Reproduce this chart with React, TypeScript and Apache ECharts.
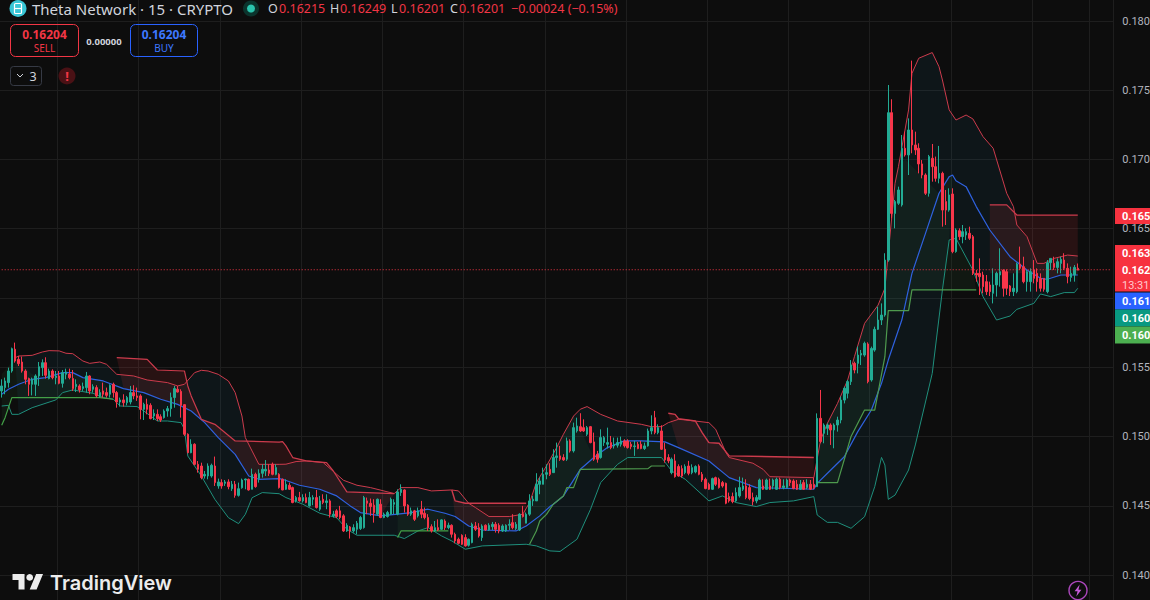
import React, { useEffect, useRef } from "react";
import * as echarts from "echarts";

// candle rows: open, high, low, close
const candlesA = [
[.15329,.15413,.15281,.15365],[.15353,.15425,.15305,.15401],[.15389,.15497,.15353,.15473],[.15473,.15642,.15461,.15634],[.1563,.15678,.15533,.15545],
[.15557,.15581,.15509,.15526],[.15538,.15577,.15461,.15473],[.15473,.15485,.15377,.15413],[.15418,.15425,.15293,.15377],[.15377,.15425,.15297,.15413],
[.15377,.15449,.15293,.15437],[.15437,.15538,.15365,.15504],[.15497,.15557,.15437,.15533],[.15533,.15572,.15418,.15442],[.15418,.1549,.15413,.15473],
[.15473,.15485,.15413,.15425],[.15425,.15473,.15377,.15437],[.15437,.15473,.15377,.15384],[.15384,.1548,.15353,.15461],[.15449,.1549,.15413,.15466],
[.15451,.1549,.15413,.15425],[.15418,.1548,.15329,.15346],[.1536,.15413,.15321,.15377],[.15365,.15377,.15317,.15336],[.15346,.15389,.15329,.1536],
[.15353,.15466,.15317,.15437],[.15437,.15442,.15305,.15329],[.15341,.15377,.15317,.1536],[.15353,.1537,.15281,.15293],[.15293,.15341,.15281,.15317],
[.15329,.15389,.15281,.15305],[.15317,.15353,.15281,.15297],[.15305,.15377,.15281,.1537],[.15377,.15389,.15281,.15317],[.15317,.15329,.15208,.15249],
[.15249,.15281,.15216,.15264],[.15264,.15305,.15216,.15244],[.15244,.15293,.15225,.15281],[.15249,.15365,.15232,.15317],[.15317,.1537,.15269,.15293],
[.15293,.15353,.15257,.15281],[.15293,.15305,.15124,.15196],[.15196,.15244,.15119,.15232],[.15232,.15273,.1516,.15196],[.15225,.1524,.15124,.15129],
[.15148,.15196,.15119,.15167],[.1516,.15196,.15112,.15129],[.15143,.1516,.15105,.15119],[.15136,.15196,.15129,.15184],[.15184,.1522,.15143,.15201],
[.15201,.15317,.15143,.15281],[.15281,.15365,.15208,.15346],[.15341,.15365,.15317,.15321],[.15326,.15341,.15136,.15225],[.1523,.15232,.15004,.15016],
[.15016,.15023,.14879,.14883],[.14883,.1498,.14879,.14944],[.14944,.14951,.14792,.14799],[.14799,.14823,.14739,.14763],[.14787,.14811,.14691,.14703],
[.14715,.14751,.14696,.14727],[.14715,.14806,.14691,.14787],[.14715,.14804,.14703,.14792],[.14787,.14855,.14643,.14667],[.14643,.14696,.14623,.14672],
[.14667,.14691,.14623,.14643],[.14662,.14686,.14643,.14672],[.14672,.14691,.14619,.14638],[.14623,.14679,.14607,.14655],[.14655,.14679,.14558,.14575],
[.14575,.14667,.14566,.14623],[.1463,.14696,.14623,.14686],[.14686,.14696,.14619,.14693],[.14691,.14696,.14609,.14614],[.14619,.14768,.14619,.14727],
[.14727,.14739,.1463,.14638],[.14696,.14763,.14667,.14734],[.14734,.14799,.14703,.14763],[.14751,.1483,.14715,.14763],[.14758,.14799,.14715,.14734],
];
const candlesB = [
[.148,.14812,.1472,.14727],[.14727,.148,.1472,.14776],[.14727,.14735,.14624,.14631],[.14691,.14696,.14612,.14614],[.14619,.14691,.14614,.14655],
[.14648,.14667,.14614,.14619],[.14631,.14638,.14518,.14523],[.14535,.14571,.14523,.14559],[.14559,.146,.1453,.14535],[.14535,.14583,.14523,.14559],
[.14559,.14588,.14518,.14523],[.14499,.146,.14494,.14559],[.14547,.14576,.14504,.14559],[.14559,.14614,.1448,.14487],[.14475,.14571,.14463,.14535],
[.14547,.14583,.14511,.14523],[.14523,.14583,.14475,.14535],[.14535,.14547,.14415,.14439],[.14427,.14463,.14415,.14439],[.14463,.14475,.1441,.14422],
[.14463,.14499,.14402,.14415],[.14427,.14439,.14311,.14318],[.14318,.14374,.14311,.14359],[.14347,.14354,.14263,.14318],[.14318,.14366,.14306,.14342],
[.1433,.1439,.14294,.14374],[.14335,.14427,.14325,.14415],[.14342,.14571,.14335,.14559],[.14535,.14559,.14439,.14518],[.14518,.14552,.14427,.14494],
[.14504,.14547,.14378,.14451],[.14439,.14552,.14427,.14547],[.14511,.14547,.1441,.14415],[.14415,.14451,.1441,.14439],[.14422,.14463,.14415,.14451],
[.14439,.14559,.14434,.14547],[.14511,.14547,.14439,.14523],[.14439,.14619,.14431,.146],[.14595,.14655,.14571,.14619],[.14614,.14619,.14451,.14499],
[.14504,.14511,.14427,.14439],[.14439,.14487,.14427,.14463],[.14463,.1447,.1439,.14402],[.14427,.14487,.14415,.14463],[.14475,.14535,.1441,.14439],
[.14446,.14487,.14402,.14415],[.14415,.14439,.14318,.14342],[.14349,.14366,.14306,.14318],[.14318,.1439,.14311,.14342],[.14342,.14402,.14318,.14325],
[.1433,.14402,.14325,.14398],[.1439,.14402,.14325,.14342],[.14342,.14378,.1433,.14359],[.14359,.14366,.1427,.14294],[.14294,.14306,.14229,.14246],
[.14258,.1427,.14222,.14229],[.14287,.14294,.14217,.14222],[.1427,.14294,.14205,.1421],[.14215,.14263,.14205,.14258],[.14234,.14378,.14229,.14366],
[.14354,.14383,.14318,.1433],[.14342,.14374,.1427,.14282],[.1427,.14366,.14246,.14354],[.14359,.14366,.14318,.14325],[.14325,.14374,.14318,.14359],
[.14349,.14383,.14325,.14366],[.14366,.14383,.14306,.1433],[.14359,.14374,.14301,.14318],[.14318,.14366,.14311,.14354],[.14318,.14366,.14311,.14359],
[.14359,.14402,.14325,.14366],[.14378,.14439,.1433,.14342],[.14335,.14383,.14325,.14366],[.14325,.14446,.14318,.14439],[.14439,.14499,.14415,.14422],
[.14374,.14451,.14374,.14439],[.14439,.14583,.14427,.14535],[.14535,.14571,.14499,.14547],[.14535,.14735,.14535,.14655],[.14655,.14703,.14583,.14679],
];
const candlesC = [
[.14655,.14775,.14655,.14727],[.14727,.14799,.14691,.14739],[.14763,.14807,.14715,.14727],[.14739,.14908,.14739,.14848],[.14848,.14956,.14775,.1486],
[.1486,.14932,.14824,.14836],[.14848,.14872,.14824,.14831],[.14836,.14992,.14824,.14968],[.14968,.1498,.14884,.14896],[.14896,.151,.14884,.15064],
[.1504,.15136,.15028,.15076],[.15071,.15168,.15033,.1504],[.15064,.15124,.15033,.1504],[.15016,.15076,.15004,.15064],[.15071,.15076,.14951,.14956],
[.14961,.15028,.14824,.14836],[.14872,.14896,.14811,.14836],[.14848,.15052,.1484,.14992],[.14956,.15004,.14932,.14992],[.14944,.15064,.14913,.14956],
[.14956,.15004,.14908,.1492],[.14932,.14992,.14913,.14944],[.14937,.14992,.1492,.14956],[.14944,.14999,.14927,.14968],[.14968,.1498,.1492,.14932],
[.14968,.1498,.14913,.1492],[.14944,.14961,.14908,.14927],[.14927,.14968,.1486,.14932],[.14944,.14961,.14908,.14913],[.14944,.14968,.14908,.14913],
[.14913,.14956,.14903,.14932],[.14932,.15057,.14927,.1504],[.1504,.15153,.15016,.15064],[.15136,.15185,.15016,.15028],[.15028,.15088,.15016,.15064],
[.1504,.15081,.14903,.14908],[.14908,.14956,.14811,.14831],[.14848,.14872,.14807,.14824],[.14739,.14848,.14727,.14836],[.14824,.14872,.14703,.1471],
[.14783,.14799,.1471,.14715],[.14768,.14792,.14703,.14715],[.14739,.14799,.14727,.14783],[.14787,.14824,.1472,.14734],[.14739,.14799,.14727,.14775],
[.14744,.14792,.14734,.14783],[.14787,.14799,.1472,.14727],[.14727,.14744,.14672,.14686],[.14691,.14703,.14619,.14624],[.14655,.14667,.14614,.14619],
[.14619,.14703,.14614,.14696],[.14703,.1471,.14643,.14655],[.14691,.14703,.14624,.14631],[.14667,.14679,.14631,.14643],[.14662,.14667,.14511,.14518],
[.14566,.14595,.14523,.14535],[.14566,.14595,.14518,.1453],[.14535,.14631,.14528,.14595],[.14571,.1471,.14559,.14631],[.14619,.14703,.14607,.14643],
[.14643,.14691,.14547,.14559],[.14631,.14655,.1454,.14552],[.14559,.14595,.14503,.1453],[.14535,.14576,.14518,.14559],[.14547,.14696,.14542,.14686],
[.14643,.14691,.14614,.14619],[.14619,.14696,.14614,.14686],[.14643,.14696,.14614,.14619],[.14643,.14696,.14619,.14686],[.14619,.14703,.14614,.14691],
[.14691,.14703,.14619,.14631],[.14631,.14691,.14619,.14643],[.14631,.14696,.14624,.14686],[.14686,.14696,.14643,.14667],[.14679,.14691,.14619,.14624],
[.14655,.14686,.14614,.14619],[.14619,.14686,.14614,.14655],[.14667,.14686,.14614,.14619],[.14631,.14691,.14619,.14655],[.14655,.14686,.14614,.14619],
[.14655,.14703,.14619,.14631],
];
const candlesD = [
[.14638,.15167,.14638,.15131],[.15131,.15336,.14951,.14963],[.15023,.15095,.14951,.15083],[.15059,.15095,.15011,.15083],[.15083,.15095,.14939,.15047],
[.15047,.15095,.14915,.15083],[.15083,.15143,.15035,.15119],[.15119,.15288,.15095,.15263],[.15263,.1536,.15239,.15348],[.15312,.15408,.15275,.15396],
[.15396,.15552,.15372,.15516],[.15528,.1554,.15456,.1548],[.15528,.15649,.15456,.15588],[.15588,.15625,.15516,.156],[.15588,.15685,.15576,.15673],
[.15668,.1568,.15384,.15396],[.15408,.15649,.15396,.15636],[.15624,.15793,.15612,.15774],[.15774,.15937,.15769,.15841],[.15841,.15961,.15805,.15877],
[.15877,.16323,.15865,.16274],[.16274,.17538,.16262,.17338],[.17338,.17435,.16575,.16611],[.16611,.16708,.16503,.16696],[.16684,.16804,.16672,.1678],
[.16672,.17177,.1666,.17081],[.17081,.17201,.17021,.17033],[.17033,.17297,.16888,.17213],[.17213,.17714,.17045,.17105],[.17105,.17201,.17033,.17069],
[.17081,.17117,.169,.16968],[.16968,.16996,.16864,.16888],[.16888,.169,.16744,.16756],[.16756,.17033,.16732,.17021],[.17009,.17112,.1684,.16948],
[.16948,.17021,.1684,.16864],[.16864,.17098,.16828,.169],[.169,.16912,.16515,.16635],[.16696,.1678,.16527,.16635],[.16635,.16792,.16623,.16744],
[.16751,.16792,.16323,.16335],[.16335,.16503,.16327,.16491],[.16486,.16503,.16419,.16443],[.16443,.16527,.16395,.16479],[.16455,.16503,.16419,.16479],
[.16467,.16515,.16419,.16431],[.16443,.16455,.16166,.16178],[.16178,.16202,.16118,.16166],[.16178,.16286,.16022,.16154],[.16166,.1619,.16034,.16082],
[.16118,.16166,.16022,.16046],[.16094,.16118,.16014,.16046],[.16034,.16214,.15961,.16094],[.16094,.1619,.1601,.16178],[.16166,.16359,.16082,.1619],
[.16202,.16207,.1601,.1607],[.1619,.16207,.16022,.1607],[.16087,.16094,.16014,.16046],[.16046,.16178,.16014,.1607],[.16046,.16255,.16034,.16245],
[.16245,.16371,.16202,.16214],[.16226,.16298,.16106,.16118],[.16118,.16202,.16046,.1619],[.16118,.16214,.16046,.1619],[.16202,.16274,.16106,.16142],
[.16178,.16214,.16046,.16118],[.16142,.16178,.16046,.1607],[.16142,.16142,.16046,.16063],[.16046,.16274,.16034,.16255],[.16255,.16286,.16202,.16286],
[.1625,.16298,.16202,.16221],[.16221,.16286,.16178,.16262],[.1625,.16298,.16178,.16279],[.16274,.16323,.16202,.16214],[.16214,.1625,.16106,.16154],
[.16149,.16226,.16118,.16178],[.16166,.16238,.16118,.16221],[.16215,.16249,.16201,.16201],
];

// band lines: candle index, price
const upperBand = [
[4,.15569],[5,.15581],[9,.15586],[12,.1561],[14,.1562],[17,.15618],[19,.15601],[21,.15598],[24,.15545],[26,.15528],[29,.15538],[31,.15521],[34,.15449],[39,.15437],[43,.15408],[49,.15389],[52,.15365],[54,.15377],[57,.15461],[59,.15478],[61,.15473],[64,.15449],[67,.15401],[69,.15317],[71,.15148],[72,.14992],[74,.14895],[76,.14799],[78,.14799],[82,.14799],
[84,.148],[87,.14819],[90,.14824],[95,.14812],[99,.14727],[101,.14684],[105,.14648],[109,.14631],[116,.14588],[118,.14631],[123,.14631],[127,.14607],[133,.14614],[135,.14607],[138,.14518],[140,.14487],[144,.14422],[150,.14422],[154,.14439],[156,.14523],[158,.14667],[161,.14788],
[164,.1492],[166,.15016],[169,.15148],[171,.15197],[173,.15216],[177,.1516],[182,.15112],[189,.15088],[192,.15071],[195,.15071],[197,.151],[200,.15124],[202,.1512],[209,.151],[211,.15052],[214,.14884],[215,.14848],[222,.14807],[225,.14763],[227,.1471],[240,.14703],
[242,.14975],[244,.15095],[247,.15239],[250,.15408],[252,.15576],[255,.15817],[259,.15949],[261,.1607],[264,.16828],[265,.16948],[268,.17358],[269,.17622],[271,.17731],[275,.17772],[277,.1767],[278,.17574],[280,.17358],[282,.17285],[285,.17321],[287,.17293],[290,.17165],[293,.17081],[297,.16756],[299,.16659],[300,.16527],[303,.16443],[306,.1625],[308,.1625],[311,.16286],[315,.1631],[318,.16303],
];
const basisLine = [
[0,.15305],[2,.15341],[5,.15377],[9,.15413],[13,.15425],[18,.15461],[21,.15461],[24,.15425],[30,.15401],[36,.15346],[42,.15317],[47,.15269],[52,.15232],[56,.15184],[60,.151],[64,.14992],[69,.14871],[73,.14715],[76,.14691],[82,.14696],
[83,.14691],[88,.14648],[94,.14619],[99,.14571],[103,.14499],[106,.14451],[112,.14427],[117,.14439],[121,.14451],[126,.14475],[131,.14446],[134,.14422],[138,.14354],[142,.14325],[152,.14318],[155,.14354],[159,.14427],[162,.14494],
[163,.14511],[166,.14571],[171,.14763],[175,.14848],[179,.1492],[184,.14968],[189,.14968],[196,.14961],[200,.1492],[209,.14823],[215,.14703],[223,.14631],[240,.14619],
[241,.14662],[245,.14758],[249,.14854],[253,.15035],[257,.15191],[260,.15384],[262,.15552],[266,.15841],[269,.16178],[273,.16467],[277,.16756],[280,.16876],[281,.16888],[282,.16847],[285,.16804],[288,.1666],[292,.16491],[298,.16298],[303,.16202],[307,.16142],[309,.16135],[313,.16166],[318,.16166],
];
const lowerBand = [
[0,.1522],[2,.15225],[3,.1516],[5,.1516],[9,.15208],[16,.15264],[18,.15317],[21,.15336],[27,.15312],[30,.15281],[33,.15269],[35,.1522],[40,.15216],[42,.15184],[46,.15112],[49,.15112],[53,.151],[54,.15052],[55,.14859],[59,.14715],[63,.14546],[67,.14414],[70,.14371],[72,.14438],[74,.14558],[77,.14595],[82,.14587],
[84,.14559],[89,.14511],[94,.14446],[99,.14414],[102,.1433],[105,.14287],[116,.14287],[119,.14263],[123,.14318],[126,.14342],[130,.14282],[133,.14246],[137,.14186],[142,.1421],[155,.14222],[158,.1421],[162,.14174],[165,.1417],
[170,.14258],[174,.14474],[177,.14667],[182,.14799],[185,.14848],[191,.14848],[195,.14848],[198,.14751],[202,.14691],[209,.14535],[213,.14571],[217,.14523],[223,.14494],[227,.14523],[234,.14535],[240,.14566],
[241,.14433],[244,.1438],[247,.1438],[251,.14337],[255,.14421],[258,.14638],[260,.14849],[261,.14794],[262,.14546],[264,.14577],[268,.14758],[270,.14939],[275,.15456],[278,.16058],[280,.16419],[282,.16431],[287,.16202],[290,.1601],[294,.15841],[298,.1587],[300,.15918],[305,.15961],[307,.16029],[310,.1601],[314,.16039],[317,.16039],[318,.1607],
];

// stepped resistance lines
const resistA = [[34,.15569],[43,.15557],[46,.1548],[54,.15473],[55,.15365],[56,.15293],[59,.15124],[63,.15088],[69,.14968],[82,.1496],[83,.14963],[84,.14932],[86,.14848],[90,.14824],[96,.14812],[98,.14751],[102,.146],[116,.14588]];
const resistB = [[133,.14614],[134,.14535],[137,.14518],[155,.14518]];
const resistC = [[197,.15168],[199,.1516],[200,.15129],[205,.15112],[207,.15028],[209,.14956],[212,.14951],[215,.1486],[240,.14848]];
const resistD = [[292,.16672],[297,.16672],[300,.16599],[318,.16599]];
const resistDFloor = [[318,.16166],[307,.16142],[303,.16178],[292,.16178]];

// stepped support lines
const supportA = [[0,.15081],[1,.15136],[3,.15281],[29,.15281],[33,.15269]];
const supportB = [[117,.1427],[118,.14318],[132,.14318]];
const supportC = [[156,.14222],[158,.14318],[159,.1439],[161,.14438],[163,.14511],[166,.14571],[167,.14631],[169,.14631],[171,.14763],[191,.14768],[192,.14787],[196,.14787]];
const supportD = [[241,.14667],[247,.14667],[251,.15],[255,.15191],[258,.15191],[261,.15576],[262,.15909],[268,.15909],[269,.16058],[288,.16058]];
const supportACeiling = [[9,.1545],[4,.15569],[0,.1545]];
const supportDCeiling = [[267,.1700]];

const lastPrice = 0.16204;
const priceTicks = [0.135, 0.185, 0.005];
const slotCount = 329;
const timeLines = [17, 41, 65, 89, 113, 137, 161, 185, 209, 233, 257, 281, 305, 322];

const symbolTitle = "Theta Network · 15 · CRYPTO";
const ohlcLabels = ["O", "H", "L", "C"];
const ohlcValues = ["0.16215", "0.16249", "0.16201", "0.16201"];
const changeText = "−0.00024 (−0.15%)";
const axisTags = [
  { text: "0.165", y: 216, h: 16, fill: "#f7323f" },
  { text: "0.163", y: 253.5, h: 17, fill: "#f7323f" },
  { text: "0.162", y: 270.5, h: 17, fill: "#f7323f" },
  { text: "13:31", y: 285, h: 13, fill: "#f7323f", color: "#ffc9cd" },
  { text: "0.161", y: 301, h: 17, fill: "#2962ff" },
  { text: "0.160", y: 318, h: 17, fill: "#089981" },
  { text: "0.160", y: 335, h: 17, fill: "#4caf50" },
];

const BG = "#0d0d0d";
const GRID = "#1e1e1e";
const UI = "Noto Sans, Roboto, sans-serif";
const RED = "#f23645";

const inRange = (line: number[][], a: number, b: number) => line.filter((p) => p[0] >= a && p[0] <= b);
const backwards = (line: number[][]) => [...line].reverse();

const zones: { fill: string; points: number[][] }[] = [
  { fill: "rgba(33,120,160,0.09)", points: [...upperBand, ...backwards(inRange(lowerBand, 4, 318))] },
  { fill: "rgba(242,54,69,0.12)", points: [...resistA, ...backwards(inRange(basisLine, 34, 116))] },
  { fill: "rgba(242,54,69,0.12)", points: [...resistB, ...backwards(inRange(basisLine, 133, 155))] },
  { fill: "rgba(242,54,69,0.12)", points: [...resistC, ...backwards(inRange(basisLine, 197, 240))] },
  { fill: "rgba(242,54,69,0.12)", points: [...resistD, ...resistDFloor] },
  { fill: "rgba(76,175,80,0.07)", points: [...supportA, ...backwards(inRange(basisLine, 13, 33)), ...supportACeiling] },
  { fill: "rgba(76,175,80,0.07)", points: [...supportB, ...backwards(inRange(basisLine, 117, 132))] },
  { fill: "rgba(76,175,80,0.07)", points: [...supportC, ...backwards(inRange(basisLine, 175, 196)), ...backwards(inRange(upperBand, 156, 169))] },
  { fill: "rgba(76,175,80,0.07)", points: [...supportD, ...backwards(inRange(lowerBand, 280, 287)), ...backwards(inRange(basisLine, 277, 281)), ...supportDCeiling, ...backwards(inRange(upperBand, 241, 265))] },
];

function text(x: number, y: number, s: string, fill: string, font: string, align = "left") {
  return { type: "text", x, y, z: 50, silent: true, style: { text: s, fill, font, align, verticalAlign: "middle" } };
}
function box(x: number, y: number, w: number, h: number, r: number, stroke: string, fill = "transparent") {
  return { type: "rect", z: 49, silent: true, shape: { x, y, width: w, height: h, r }, style: { fill, stroke, lineWidth: 1 } };
}

export default function App() {
  const ref = useRef<HTMLDivElement>(null);
  useEffect(() => {
    document.body.style.margin = "0";
    document.body.style.background = BG;
    echarts.graphic.registerShape("tvLogo", echarts.graphic.extendPath("M14 22H7V11H0V4h14v18zM28 22h-8l7.5-18h8L28 22z", {}));
    echarts.graphic.registerShape("bolt", echarts.graphic.extendPath("M2 -7L-4 1L-0.5 1L-2 7L4 -1L0.5 -1Z", {}));
    const chart = echarts.init(ref.current!, undefined, { renderer: "svg" });

    const rows = [...candlesA, ...candlesB, ...candlesC, ...candlesD];
    const cats = Array.from({ length: slotCount }, (_, i) => String(i));
    const line = (name: string, data: number[][], color: string, width = 1, z = 3, type: any = "solid") => ({
      type: "line", name, data, symbol: "none", z, silent: true, clip: true,
      lineStyle: { color, width, type }, itemStyle: { color },
    });

    const ohlcX = [268, 330, 391, 450];
    const valueX = [279, 340, 399, 459];
    const graphics: any[] = [
      { type: "circle", z: 49, silent: true, shape: { cx: 18, cy: 8.5, r: 8.5 }, style: { fill: "#39c6d6" } },
      { type: "rect", z: 50, silent: true, shape: { x: 14.5, y: 3.5, width: 7, height: 10, r: 1 }, style: { fill: "transparent", stroke: "#fff", lineWidth: 1.2 } },
      { type: "line", z: 50, silent: true, shape: { x1: 15, y1: 8.5, x2: 21, y2: 8.5 }, style: { stroke: "#fff", lineWidth: 1.2 } },
      text(32, 9, symbolTitle, "#d1d4dc", `15px ${UI}`),
      { type: "circle", z: 49, silent: true, shape: { cx: 251, cy: 8.5, r: 8 }, style: { fill: "rgba(8,153,129,0.28)" } },
      { type: "circle", z: 50, silent: true, shape: { cx: 251, cy: 8.5, r: 4 }, style: { fill: "#2bc4ad" } },
      ...ohlcLabels.map((s, i) => text(ohlcX[i], 8.5, s, "#d1d4dc", `12.5px ${UI}`)),
      ...ohlcValues.map((s, i) => text(valueX[i], 8.5, s, RED, `12.5px ${UI}`)),
      text(511, 8.5, changeText, RED, `12.5px ${UI}`),
      box(10.5, 24.5, 68, 32, 5, RED),
      text(44.5, 34, "0.16204", RED, `bold 12px ${UI}`, "center"),
      text(44.5, 48, "SELL", RED, `10px ${UI}`, "center"),
      text(104, 41, "0.00000", "#d1d4dc", `bold 9.5px ${UI}`, "center"),
      box(130.5, 24.5, 67, 32, 5, "#2962ff"),
      text(164, 34, "0.16204", "#3d78ff", `bold 12px ${UI}`, "center"),
      text(164, 48, "BUY", "#3d78ff", `10px ${UI}`, "center"),
      box(10.5, 66.5, 31, 19, 3, "#363a45"),
      { type: "polyline", z: 50, silent: true, shape: { points: [[17, 74], [20, 77], [23, 74]] }, style: { fill: "none", stroke: "#d1d4dc", lineWidth: 1 } },
      text(33, 76, "3", "#d1d4dc", `12.5px ${UI}`, "center"),
      { type: "circle", z: 49, silent: true, shape: { cx: 67, cy: 76, r: 8.5 }, style: { fill: "#4a1115" } },
      text(67, 76, "!", "#f23645", `bold 13px ${UI}`, "center"),
      { type: "tvLogo", z: 50, silent: true, x: 12.5, y: 570.5, scaleX: 0.86, scaleY: 0.86, style: { fill: "#ececec" } },
      { type: "circle", z: 50, silent: true, shape: { cx: 29.7, cy: 577.4, r: 3.4 }, style: { fill: "#ececec" } },
      text(50, 583, "TradingView", "#ececec", `600 20px Inter, ${UI}`),
      { type: "circle", z: 50, silent: true, shape: { cx: 1078, cy: 590.5, r: 9 }, style: { fill: "transparent", stroke: "#ab47bc", lineWidth: 1.4 } },
      { type: "bolt", z: 50, silent: true, x: 1078, y: 590.5, scaleX: 0.85, scaleY: 0.85, style: { fill: "#c55bd8" } },
      ...axisTags.map((t) => ({ type: "rect", z: 49, silent: true, shape: { x: 1115, y: t.y - t.h / 2, width: 35, height: t.h }, style: { fill: t.fill } })),
      ...axisTags.map((t) => text(1122, t.y, t.text, t.color || "#ffffff", `${t.color ? "" : "bold "}11px Roboto, ${UI}`)),
    ];

    chart.setOption({
      animation: false,
      backgroundColor: BG,
      grid: { left: 0, top: -48.25, width: 1113.3, height: 692.5, containLabel: false, outerBoundsMode: "none" },
      xAxis: {
        type: "category", data: cats, boundaryGap: true,
        axisLine: { show: false }, axisTick: { show: false }, axisLabel: { show: false },
        splitLine: { show: true, interval: (i: number) => timeLines.includes(i), lineStyle: { color: GRID, width: 1 } },
      },
      yAxis: {
        type: "value", position: "right", min: priceTicks[0], max: priceTicks[1], interval: priceTicks[2], scale: true,
        axisLine: { show: false }, axisTick: { show: false },
        axisLabel: {
          show: true, color: "#b2b5be", fontSize: 11, fontFamily: `Roboto, ${UI}`, margin: 9, showMinLabel: false, showMaxLabel: false,
          formatter: (v: number) => (Math.abs(v - 0.16) < 1e-6 ? "" : v.toFixed(3)),
        },
        splitLine: { show: true, lineStyle: { color: GRID, width: 1 } },
      },
      graphic: { elements: graphics },
      series: [
        ...zones.map((zone) => ({
          type: "custom", coordinateSystem: "cartesian2d", z: 1, silent: true, clip: true,
          data: [zone.points[0]],
          renderItem: (_: any, api: any) => ({
            type: "polygon",
            shape: { points: zone.points.map((p) => api.coord(p)) },
            style: { fill: zone.fill, stroke: "none" },
          }),
        })),
        line("upper", upperBand, "#cc3b4c"),
        line("basis", basisLine, "#2f62e0", 1.2),
        line("lower", lowerBand, "#1f8f7c"),
        line("resistA", resistA, "#cc3b4c", 1.2),
        line("resistB", resistB, "#cc3b4c", 1.4),
        line("resistC", resistC, "#cc3b4c", 1.4),
        line("resistD", resistD, "#cc3b4c", 1.2),
        line("supportA", supportA, "#43a047", 1.2),
        line("supportB", supportB, "#43a047", 1.2),
        line("supportC", supportC, "#4e9a4e", 1.2),
        line("supportD", supportD, "#4e9a4e", 1.2),
        line("last", [[0, lastPrice], [slotCount - 1, lastPrice]], RED, 1, 5, [1, 2]),
        {
          type: "candlestick", z: 4, silent: true, large: false, barWidth: 2,
          data: rows.map(([o, h, l, c]) => [o, c, l, h]),
          itemStyle: { color: "#22ab94", color0: "#f7364a", borderColor: "#22ab94", borderColor0: "#f7364a", borderWidth: 1 },
        },
      ],
    });
    return () => chart.dispose();
  }, []);
  return <div ref={ref} style={{ width: 1150, height: 600 }} />;
}
